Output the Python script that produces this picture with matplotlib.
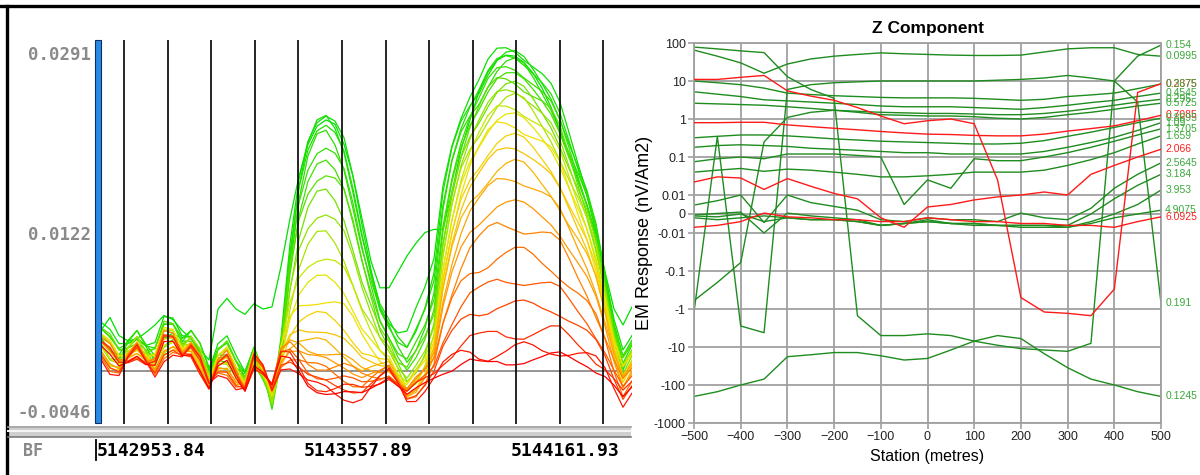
import numpy as np
import matplotlib.pyplot as plt
import matplotlib.transforms as mtransforms
from matplotlib.colors import LinearSegmentedColormap
from matplotlib.lines import Line2D
from matplotlib.patches import Rectangle

# ---------------- left panel: decay channels along the northing profile ----------------
north_start = 5142965.5
north_end = 5144515.0
north_labels = [5142953.84, 5143557.89, 5144161.93]
fid_first = 5143032.6
fid_step = 127.2
n_fid = 12
y_labels_left = [0.0291, 0.0122, -0.0046]
zero_level = -0.0008

# earliest channel
ch_first = [0.0030, 0.0042, 0.0025, 0.0020, 0.0022, 0.0028, 0.0035, 0.0044, 0.0040, 0.0030,
            0.0022, 0.0012, 0.0002, 0.0050, 0.0060, 0.0050, 0.0045, 0.0055, 0.0050, 0.0052,
            0.0090, 0.0135, 0.0175, 0.0205, 0.0222, 0.0228, 0.0224, 0.0205, 0.0175, 0.0135,
            0.0095, 0.0070, 0.0070, 0.0085, 0.0100, 0.0112, 0.0122, 0.0125, 0.0125, 0.0160,
            0.0200, 0.0228, 0.0255, 0.0273, 0.0284, 0.0289, 0.0288, 0.0282, 0.0272, 0.0258,
            0.0240, 0.0218, 0.0195, 0.0172, 0.0148, 0.0120, 0.0085, 0.0050, 0.0035, 0.0052]

# common background level of the later channels
background = [0.0018, 0.0008, 0.0000, 0.0008, 0.0015, 0.0005, 0.0000, 0.0020, 0.0022, 0.0012,
              0.0016, 0.0002, -0.0017, 0.0000, 0.0003, -0.0012, -0.0020, 0.0006, -0.0002, -0.0018,
              0.0008, 0.0010, 0.0002, -0.0008, -0.0012, -0.0014, -0.0016, -0.0017, -0.0019, -0.0020,
              -0.0015, -0.0010, -0.0005, -0.0015, -0.0026, -0.0022, -0.0016, -0.0010, -0.0006, -0.0004,
              0.0000, 0.0002, -0.0002, -0.0004, -0.0003, -0.0004, -0.0002, 0.0000, 0.0002, 0.0003,
              0.0005, 0.0006, 0.0004, 0.0002, 0.0000, -0.0004, -0.0008, -0.0018, -0.0030, -0.0020]

# slow channel-to-channel departure from the background
wiggle = [0.0006, 0.0009, 0.0004, -0.0003, -0.0006, -0.0002, 0.0005, 0.0009, 0.0006, 0.0000,
          -0.0005, -0.0007, -0.0003, 0.0004, 0.0008, 0.0005, -0.0002, -0.0006, -0.0004, 0.0002,
          0.0006, 0.0005, 0.0001, -0.0003, -0.0005, -0.0004, 0.0000, 0.0004, 0.0005, 0.0003,
          -0.0001, -0.0004, -0.0005, -0.0002, 0.0003, 0.0006, 0.0004, 0.0000, -0.0004, -0.0005,
          -0.0003, 0.0001, 0.0004, 0.0005, 0.0003, -0.0001, -0.0004, -0.0005, -0.0002, 0.0002,
          0.0005, 0.0006, 0.0003, -0.0001, -0.0004, -0.0006, -0.0003, 0.0002, 0.0005, 0.0003]

# anomaly profiles (unit height)
anom_south = [0] * 17 + [-0.03, -0.08, -0.14,
              -0.02, 0.35, 0.66, 0.87, 0.97, 1.0, 0.97, 0.89, 0.74, 0.56,
              0.38, 0.2, 0.08, 0.02] + [0] * 26
anom_north = [0] * 35 + [0.02, 0.05, 0.12, 0.38, 0.57,
              0.7, 0.79, 0.87, 0.94, 0.98, 1.0, 0.99, 0.96, 0.92, 0.88,
              0.83, 0.76, 0.68, 0.6, 0.52, 0.42, 0.28, 0.15, 0.08, 0.1]
saddle = [0] * 31 + [0.1, 0.25, 0.45, 0.65, 0.8, 0.92, 1.0, 0.9, 0.6, 0.3, 0.1] + [0] * 18

amp_south = [0.0237, 0.0233, 0.0228, 0.0220, 0.0211, 0.0198, 0.0189, 0.0170, 0.0151, 0.0131,
             0.0113, 0.0094, 0.0074, 0.0059, 0.0044, 0.0033, 0.0026, 0.0020, 0.0015, 0.0010,
             0.0005, 0.0000, -0.0004, -0.0007, -0.0008]
amp_north = [0.0288, 0.0285, 0.0282, 0.0279, 0.0275, 0.0271, 0.0266, 0.0262, 0.0257, 0.0251,
             0.0244, 0.0237, 0.0229, 0.0218, 0.0207, 0.0193, 0.0179, 0.0158, 0.0136, 0.0111,
             0.0084, 0.0063, 0.0034, 0.0020, 0.0008]
amp_saddle = [0.0060, 0.0050, 0.0042, 0.0035, 0.0028, 0.0022, 0.0017, 0.0012, 0.0008, 0.0005,
              0.0003, 0.0001, 0, 0, 0, 0, 0, 0, 0, 0, 0, 0, 0, 0, 0]
wig_weight = [1.1, -0.8, 0.5, -1.3, 0.9, -0.3, 1.4, -1.0, 0.6, -1.4, 1.0, -0.5, 1.3,
              -0.9, 0.3, -1.2, 0.8, -0.6, 1.4, -1.3, 0.9, -0.8, 1.2, -1.4, 0.6]
level_shift = [0.0013, 0.0010, 0.0011, 0.0007, 0.0008, 0.0005, 0.0006, 0.0003, 0.0004, 0.0001,
               0.0002, 0.0000, 0.0001, -0.0002, -0.0001, -0.0003, -0.0002, -0.0004, -0.0003, -0.0005,
               -0.0004, -0.0006, -0.0005, -0.0007, -0.0006]

# ---------------- right panel: Z component profiles ----------------
stations = list(range(-500, 501, 50))
ch01 = [65, 45, 30, 16, 28, 38, 45, 50, 55, 52, 50, 48, 47, 47, 48, 58, 70, 75, 75, 50, 45]
ch02 = [-200, -150, -100, -70, -18, -16, -14, -14, -17, -22, -20, -12, -7, -5, -6, -15, -35, -70, -100, -150, -200]
ch03 = [78, 70, 62, 56, 13, 6, 3.5, -1.5, -5, -5, -4.5, -5, -7, -9, -11, -12, -13, -8, 10, 45, 88]
ch04 = [-1.2, 0.35, -2.8, -4.2, 6, 8, 9, 9.5, 10, 10, 10, 10, 10, 10.5, 11, 12, 14, 12, 10, 2.8, -0.7]
ch05 = [11, 11, 12.5, 14, 5.5, 4, 3.1, 2, 1.2, 0.75, 0.9, 1.0, 0.75, 0.025, -0.5, -1.2, -1.3, -1.5, -0.3, 5, 8.5]
ch06 = [-0.6, -0.2, -0.06, 0.25, 1.1, 1.5, 1.7, 1.6, 1.5, 1.45, 1.4, 1.4, 1.35, 1.3, 1.3, 1.4, 1.6, 1.9, 2.3, 2.8, 3.3]
ch07 = [10, 9, 8, 6.5, 4.8, 4.4, 4.1, 3.9, 3.7, 3.6, 3.6, 3.6, 3.5, 3.3, 3.1, 3.3, 3.9, 4.3, 4.8, 6.3, 8.3]
ch08 = [5.2, 4.5, 3.9, 3.2, 3.0, 2.8, 2.6, 2.4, 2.2, 2.1, 2.1, 2.1, 2.0, 1.9, 1.8, 2.0, 2.3, 2.7, 3.1, 3.9, 4.8]
ch09 = [2.6, 2.5, 2.4, 2.3, 2.1, 1.9, 1.7, 1.5, 1.3, 1.25, 1.2, 1.2, 1.15, 1.05, 1.0, 1.1, 1.3, 1.5, 1.8, 2.2, 2.6]
ch10 = [0.8, 0.8, 0.82, 0.82, 0.7, 0.63, 0.57, 0.52, 0.47, 0.43, 0.4, 0.39, 0.37, 0.36, 0.36, 0.4, 0.48, 0.56, 0.66, 0.9, 1.25]
ch11 = [0.32, 0.35, 0.38, 0.38, 0.36, 0.33, 0.3, 0.28, 0.26, 0.25, 0.24, 0.23, 0.22, 0.22, 0.23, 0.27, 0.35, 0.45, 0.6, 0.8, 1.05]
ch12 = [0.18, 0.2, 0.21, 0.2, 0.19, 0.17, 0.16, 0.15, 0.14, 0.13, 0.13, 0.12, 0.12, 0.12, 0.12, 0.14, 0.18, 0.24, 0.33, 0.5, 0.8]
ch13 = [0.075, 0.09, 0.1, 0.09, 0.12, 0.12, 0.12, 0.11, 0.1, 0.005, 0.025, 0.015, 0.09, 0.08, 0.08, 0.1, 0.13, 0.18, 0.26, 0.38, 0.55]
ch14 = [0.04, 0.045, 0.05, 0.042, 0.048, 0.045, 0.04, 0.035, 0.03, 0.03, 0.032, 0.035, 0.04, 0.04, 0.04, 0.045, 0.06, 0.085, 0.13, 0.22, 0.36]
ch15 = [0.022, 0.03, 0.028, 0.014, 0.027, 0.017, 0.011, 0.008, -0.002, -0.007, 0.0037, 0.005, 0.0074, 0.009, 0.01, 0.012, 0.01, 0.035, 0.06, 0.1, 0.16]
ch16 = [0.0047, 0.007, 0.01, -0.0045, 0.01, 0.006, 0.004, 0.002, -0.003, -0.004, -0.002, -0.003, -0.003, -0.004, 0.0005, -0.002, -0.003, 0.003, 0.015, 0.035, 0.07]
ch17 = [-0.0005, 0.0003, 0.001, -0.01, 0.0005, -0.001, -0.002, -0.003, -0.006, -0.005, -0.004, -0.005, -0.005, -0.006, -0.006, -0.006, -0.006, 0.0, 0.008, 0.018, 0.035]
ch18 = [-0.001, -0.0015, 0.0, -0.004, -0.002, -0.003, -0.003, -0.004, -0.006, -0.005, -0.004, -0.005, -0.006, -0.006, -0.007, -0.007, -0.007, -0.004, 0.0, 0.005, 0.0135]
ch19 = [-0.002, -0.003, -0.002, -0.001, -0.002, -0.003, -0.003, -0.004, -0.006, -0.005, -0.003, -0.005, -0.005, -0.006, -0.006, -0.006, -0.007, -0.005, -0.002, 0.0, 0.002]
ch20 = [-0.007, -0.006, -0.004, 0.0005, -0.0015, -0.002, -0.003, -0.003, -0.004, -0.004, -0.002, -0.003, -0.004, -0.004, -0.005, -0.005, -0.006, -0.006, -0.007, -0.004, -0.0015]
channel_times = ['0.0995', '0.1245', '0.154', '0.191', '0.2375', '0.295', '0.3675', '0.4545',
                 '0.5725', '0.7085', '0.8695', '1.09', '1.3705', '1.659', '2.066', '2.5645',
                 '3.184', '3.953', '4.9075', '6.0925']
z_channels = [ch01, ch02, ch03, ch04, ch05, ch06, ch07, ch08, ch09, ch10,
              ch11, ch12, ch13, ch14, ch15, ch16, ch17, ch18, ch19, ch20]
z_ticks = [100, 10, 1, 0.1, 0.01, 0, -0.01, -0.1, -1, -10, -100, -1000]
z_ticklabels = ['100', '10', '1', '0.1', '0.01', '0', '-0.01', '-0.1', '-1', '-10', '-100', '-1000']

W, H = 1200, 475
fig = plt.figure(figsize=(W / 100, H / 100), dpi=100)
fig.patch.set_facecolor('white')

# frame lines
fig.add_artist(Line2D([0, 1], [1 - 5.5 / H] * 2, color='black', lw=2.4))
fig.add_artist(Line2D([6.5 / W] * 2, [0, 1 - 5.5 / H], color='black', lw=2.4))

# ---------------- left panel ----------------
axL = fig.add_axes([101 / W, 51 / H, 531 / W, 384 / H])
for s in axL.spines.values():
    s.set_visible(False)
axL.set_xlim(north_start, north_end)
axL.set_ylim(-0.00582, 0.03032)

xs = np.linspace(north_start, north_end, len(background))
bg = np.array(background)
wg = np.array(wiggle)
sa, sb, sd = np.array(anom_south), np.array(anom_north), np.array(saddle)

ramp = LinearSegmentedColormap.from_list('decay', [
    (0.0, '#00e000'), (0.25, '#44e000'), (0.5, '#f0e800'),
    (0.72, '#ff9900'), (0.88, '#ff4400'), (1.0, '#ff0000')])
n_ch = len(amp_south) + 1

axL.axhline(zero_level, color='#8c8c8c', lw=1.3, zorder=1)
axL.plot(xs, ch_first, color=ramp(0.0), lw=0.9, zorder=2)
for i in range(len(amp_south)):
    y = (bg + level_shift[i] + wig_weight[i] * wg + amp_south[i] * sa
         + amp_north[i] * sb + amp_saddle[i] * sd)
    axL.plot(xs, y, color=ramp((i + 1) / (n_ch - 1)), lw=0.9, zorder=2 + i * 0.01)

for j in range(n_fid):
    axL.axvline(fid_first + j * fid_step, color='black', lw=1.2, zorder=5)

axL.set_xticks([])
axL.set_yticks(y_labels_left)
axL.set_yticklabels(['%.4f' % v for v in y_labels_left])
axL.tick_params(axis='y', length=0, pad=7, labelsize=12.5, labelcolor='#8a8a8a')
for t in axL.get_yticklabels():
    t.set_fontfamily('DejaVu Sans Mono')
    t.set_fontweight('bold')

# blue scroll bar
fig.add_artist(Rectangle((95 / W, 52 / H), 6 / W, 383 / H, transform=fig.transFigure,
                         facecolor='#2a8ae6', edgecolor='#0b2f66', lw=0.8))

# bottom double rule
fig.add_artist(Rectangle((8 / W, (H - 437) / H), 623 / W, 9 / H, transform=fig.transFigure,
                         facecolor='#cfcfcf', edgecolor='none'))
fig.add_artist(Line2D([8 / W, 631 / W], [(H - 427) / H] * 2, color='#9a9a9a', lw=1.2))
fig.add_artist(Line2D([8 / W, 631 / W], [(H - 430.5) / H] * 2, color='#f4f4f4', lw=1.5))
fig.add_artist(Line2D([8 / W, 631 / W], [(H - 437) / H] * 2, color='#7a7a7a', lw=1.2))

bt = mtransforms.blended_transform_factory(axL.transData, fig.transFigure)
for v in north_labels:
    axL.text(v, (H - 451) / H, '%.2f' % v, transform=bt, ha='left', va='center',
             fontsize=13, fontweight='bold', family='DejaVu Sans Mono', color='black', clip_on=False)
axL.add_artist(Line2D([north_labels[0] - 3, north_labels[0] - 3], [(H - 460) / H, (H - 440) / H],
                      transform=bt, color='black', lw=1.3, clip_on=False))
fig.text(23 / W, (H - 451) / H, 'BF', ha='left', va='center', fontsize=12,
         fontweight='bold', family='DejaVu Sans Mono', color='#8a8a8a')

# ---------------- right panel ----------------
axR = fig.add_axes([694 / W, 52 / H, 467 / W, 380 / H])
axR.set_yscale('symlog', linthresh=0.01, linscale=0.45)
axR.set_xlim(-500, 500)
axR.set_ylim(-1000, 100)
axR.set_yticks(z_ticks)
axR.set_yticklabels(z_ticklabels)
axR.yaxis.set_minor_locator(plt.NullLocator())
axR.set_xticks(range(-500, 501, 100))
axR.grid(True, color='#a0a0a0', lw=1.3)
axR.set_axisbelow(True)
for s in axR.spines.values():
    s.set_color('#a0a0a0')
    s.set_linewidth(1.3)
axR.tick_params(length=4, width=1.2, color='#a0a0a0', pad=2, labelsize=9, labelcolor='#222222')
for t in axR.get_xticklabels() + axR.get_yticklabels():
    t.set_fontfamily('Liberation Sans')

for k, (vals, name) in enumerate(zip(z_channels, channel_times)):
    red = (k + 1) % 5 == 0
    axR.plot(stations, vals, color='#ff1a1a' if red else '#1e8c1e', lw=1.0, zorder=3 if red else 2)
    axR.annotate(name, xy=(stations[-1], vals[-1]), xytext=(3, 0), textcoords='offset points',
                 ha='left', va='center', fontsize=7.5, family='Liberation Sans',
                 color='#ff2020' if red else '#3aa83a', annotation_clip=False)

axR.set_title('Z Component', fontsize=12.5, fontweight='bold', family='Liberation Sans', pad=7)
axR.set_xlabel('Station (metres)', fontsize=11.5, family='Liberation Sans', labelpad=4)
axR.set_ylabel('EM Response (nV/Am2)', fontsize=13, family='Liberation Sans')
axR.yaxis.set_label_coords(-0.088, 0.5)

fig.savefig('out.png', dpi=100)
